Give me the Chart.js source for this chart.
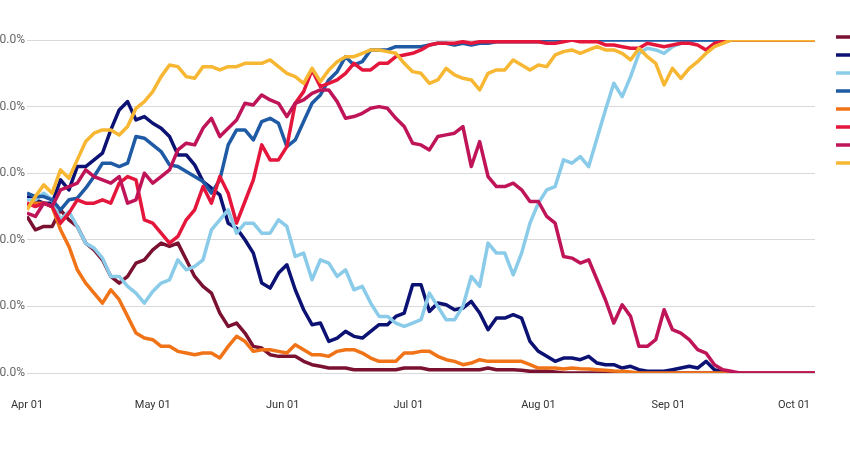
<!DOCTYPE html>
<html>
<head>
<meta charset="utf-8">
<script src="https://cdn.jsdelivr.net/npm/chart.js@4.4.1/dist/chart.umd.min.js"></script>
<style>
  html, body { margin: 0; padding: 0; background: #fff; overflow: hidden; }
  .wrap { position: absolute; left: -20px; top: 0; width: 910px; height: 464px; }
</style>
</head>
<body>
<div class="wrap"><canvas id="chart"></canvas></div>
<script>
// days since Apr 01, one point every second day
const days = [0,2,4,6,8,10,12,14,16,18,20,22,24,26,28,30,32,34,36,38,40,42,44,46,48,50,52,54,56,58,
  60,62,64,66,68,70,72,74,76,78,80,82,84,86,88,90,92,94,96,98,100,102,104,106,108,110,112,114,116,118,
  120,122,124,126,128,130,132,134,136,138,140,142,144,146,148,150,152,154,156,158,160,162,164,166,168,170,
  172,174,176,178,180,182,184,186,188];

const monthDays = [0, 30, 61, 91, 122, 153, 183];
const monthLabels = ['Apr 01', 'May 01', 'Jun 01', 'Jul 01', 'Aug 01', 'Sep 01', 'Oct 01'];
const yTickValues = [0, 20, 40, 60, 80, 100];
const yTickLabels = ['0.0%', '20.0%', '40.0%', '60.0%', '80.0%', '100.0%'];

const seriesNames = ['Series 1', 'Series 2', 'Series 3', 'Series 4', 'Series 5', 'Series 6', 'Series 7', 'Series 8'];
const seriesColors = ['#7b1131', '#0c1273', '#89cbe8', '#1f5aa5', '#f07318', '#e5163b', '#bf1558', '#f7b733'];

const maroon = [47,43,44,44,49,46,44,39,37,34, 29,27,29,33,34,37,39,38,39,34,
  29,26,24,18,14,15,12,8,7.5,5.5, 5,5,5,3.5,2.5,2,1.5,1.5,1.5,1,
  1,1,1,1,1,1.5,1.5,1.5,1,1, 1,1,1,1,1,1.5,1,1,1,0.8,
  0.5,0.5,0.5,0.3,0,0,0,0,0,0, 0,0,0,0,0,0,0,0,0,0, 0,0,0,0,0,0,0,0,0,0, 0,0,0,0,0];
const navy = [53,52,51,51,58,55,62,62,64,66, 73,79,81.5,76,77,75,73.5,71,65.5,65.5,
  62.5,57.5,55.5,53.5,45,43.5,40,36,27,25.5, 30,32.5,25,19,14.5,15,9.5,10.5,12.5,11,
  10.5,12.5,14.5,14.5,17,18,26.5,26.5,18.5,21, 20.5,19,19.5,21.5,18,13,16.5,16.5,17.5,16.5,
  9.5,6.5,5,3.5,4.5,4.5,4,5,3,2.5, 2.5,1.5,2,1,0.5,0.5,0.5,1,1.5,2, 1.5,3.5,1,0.3,0,0,0,0,0,0, 0,0,0,0,0];
const lightBlue = [52,52,54,52,46,48.5,44,39,37.5,34.5, 29,29,26,24,21,24.5,27,28,34,31,
  32,34,43,46,49,42,45,45,42,42, 46,44,35,36,28,34,33,29,31,25,
  26,21,17,17,15,14,15,16,24,20, 16,16,20,29,26,39,36,36,29.5,36,
  45,51,55,56,64,63,65,62,70.5,79, 87,83,89,96,97.5,97,96,98,99,99.5,
  100,100,100,100,100,100,100,100,100,100, 100,100,100,100,100];
const blue = [54,53,53,52,49,52,52.5,55.5,59,63, 63,62,63,71,70.5,68.5,66.5,62.5,62,60.5,
  59,57.5,54,58,68.5,73,73,70,75.5,76.5, 75,68,70,75.5,81,83.5,88,90.5,95,92.5,
  93.5,97,97,97,98,98,98,98,98.5,99, 99,98.5,99,98.5,99,99,99.5,99.5,99.5,99.5,
  99.5,99.5,100,100,100,100,100,100,100,100, 100,100,100,100,100,100,100,100,100,100,
  100,100,100,100,100,100,100,100,100,100, 100,100,100,100,100];
const orange = [50,51,51,50,43,38,31,27,24,21, 25,22,17,12,10.5,10,8,8,6.5,6,
  5.5,6,6,4.5,8,11,9.5,6.5,7,7, 6.5,6,8.5,7,5.5,5.5,5,6.5,7,7,
  6,4.5,3.5,3.5,3.5,6,6,6.5,6.5,5, 4,3.5,2.5,3,4,3.5,3.5,3.5,3.5,3.5,
  2.5,1.5,1.5,1.5,1.2,1.5,1.3,1.2,1,0.8, 0.6,0.5,0.3,0,0,0,0,0,0,0,
  0,0,0,0,0,0,0,0,0,0, 0,0,0,0,0];
const red = [51,50,51,50,45,48,52,51,51,52, 51,57,59,58,46,45,42,39,41,46,
  49,56,51,59,54,45,51.5,58,68.5,64, 64,68,81,84.5,91,86,87,88,90,93,
  91,91,93,93,95,95.5,96,97,98.5,99, 99,99,99.5,99,99.5,99.5,99.5,99.5,99.5,99.5,
  99.5,99.5,99,99,99.5,100,99.5,99.5,99.5,98.5, 98.5,98,97.5,97.5,99,98.5,98,98.5,99,99,
  98.5,97,99,99.5,100,100,100,100,100,100, 100,100,100,100,100];
const crimson = [48,47,51,50,55,56,57,61,59,58, 57,59,51,52,60,57,59,61,67,69,
  68.5,73.5,76.5,71,73.5,76,81,80.5,83.5,82, 81,77,81,82,84,85,85,81.5,76.5,77,
  78,79.5,80,79.5,76.5,74,69,68.5,67,71, 71.5,72,74,62,69.5,59,56,56,57,55,
  51.5,51.5,47,45,35,34.5,33,34,28,22, 15,20.5,17,8,8,10,19,13,12,10,
  7,6,2.5,1,0.5,0,0,0,0,0, 0,0,0,0,0];
const yellow = [49,53,56.5,54,61,58.5,64,69.5,72,73, 73,71.5,74,79.5,81.5,84.5,89,92.5,92,89,
  88.5,92,92,91,92,92,93,93,93,94, 92,90,89,87,91.5,87.5,91,93.5,95,95,
  96,97,97,96.5,96,93,90.5,90,87,88, 91.5,89.5,88.5,88,85,90,91,91,94,92.5,
  91,92.5,92,95.5,96.5,97,96,97,98,97, 97,96,94,97.5,95,93,86.5,91.5,88.5,91.5,
  93.5,96,98,99,100,100,100,100,100,100, 100,100,100,100,100];

const seriesValues = [maroon, navy, lightBlue, blue, orange, red, crimson, yellow];

const datasets = seriesValues.map((vals, i) => ({
  label: seriesNames[i],
  data: days.map((d, k) => ({ x: d, y: vals[k] })),
  borderColor: seriesColors[i],
  backgroundColor: seriesColors[i],
  borderWidth: 3.5,
  borderJoinStyle: 'round',
  pointRadius: 0,
  tension: 0,
  xAxisID: 'x',
  yAxisID: 'y',
  order: seriesValues.length - i   // later series drawn on top
}));

Chart.defaults.font.family = "Roboto, 'Noto Sans', sans-serif";

new Chart(document.getElementById('chart'), {
  type: 'line',
  data: { datasets },
  options: {
    responsive: true,
    maintainAspectRatio: false,
    animation: false,
    events: [],
    layout: { padding: { top: 25, right: 0, bottom: 0, left: 0 } },
    plugins: {
      tooltip: { enabled: false },
      legend: {
        position: 'right',
        align: 'start',
        maxWidth: 60,
        labels: {
          usePointStyle: true,
          pointStyle: 'line',
          pointStyleWidth: 24,
          padding: 6,
          color: '#555',
          font: { size: 12 },
          sort: (a, b) => a.datasetIndex - b.datasetIndex
        }
      }
    },
    scales: {
      x: {
        type: 'linear',
        min: 0,
        max: 188,
        afterBuildTicks: s => { s.ticks = monthDays.map(v => ({ value: v })); },
        afterFit: s => { s.height = 91; },
        grid: { display: false },
        border: { display: false },
        ticks: {
          autoSkip: false,
          maxRotation: 0,
          padding: 18,
          color: '#333',
          font: { size: 11 },
          callback: v => monthLabels[monthDays.indexOf(v)]
        }
      },
      y: {
        min: 0,
        max: 100,
        afterBuildTicks: s => { s.ticks = yTickValues.map(v => ({ value: v })); },
        afterFit: s => { s.width = 47; },
        grid: { color: '#d9d9d9', lineWidth: 1, drawTicks: false },
        border: { display: false },
        ticks: {
          padding: 2,
          color: '#666',
          font: { size: 12 },
          callback: v => yTickLabels[yTickValues.indexOf(v)]
        }
      },
      // empty spacer axes: room above the plot and between plot and legend
      x2: {
        type: 'linear', axis: 'x', position: 'top',
        grid: { display: false }, border: { display: false }, ticks: { display: false },
        afterFit: s => { s.height = 15; }
      },
      y2: {
        type: 'linear', axis: 'y', position: 'right',
        grid: { display: false }, border: { display: false }, ticks: { display: false },
        afterFit: s => { s.width = 15; }
      }
    }
  }
});
</script>
</body>
</html>
